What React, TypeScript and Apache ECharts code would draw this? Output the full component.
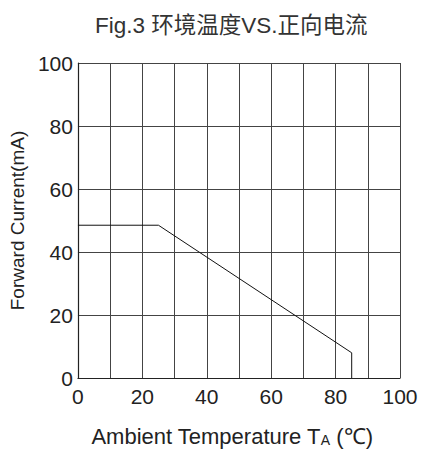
import React, { useEffect, useRef } from "react";
import * as echarts from "echarts";

const curveX = [0, 25, 85, 85];
const curveY = [48.5, 48.5, 8, 0];
const xTicks = [0, 20, 40, 60, 80, 100];
const yTicks = [0, 20, 40, 60, 80, 100];
const title = "Fig.3 环境温度VS.正向电流";
const xName = "Ambient Temperature T{s|A} (℃)";
const yName = "Forward Current(mA)";

export default function App() {
  const ref = useRef<HTMLDivElement>(null);
  useEffect(() => {
    const chart = echarts.init(ref.current!, null, { renderer: "svg" });
    const font = "'Liberation Sans', Arial, sans-serif";
    chart.setOption({
      animation: false,
      backgroundColor: "#fff",
      title: {
        text: title,
        left: 90,
        top: 9,
        textStyle: { fontFamily: "'Liberation Sans', 'Noto Sans CJK SC', sans-serif", fontSize: 22.5, fontWeight: "normal", color: "#333" },
      },
      grid: { left: 77, right: 25, top: 63, bottom: 73 },
      xAxis: {
        type: "value",
        min: 0,
        max: 100,
        interval: 10,
        name: xName,
        nameLocation: "middle",
        nameGap: 47,
        nameTextStyle: {
          fontFamily: font, fontSize: 22, color: "#222",
          padding: [0, 14, 0, 0],
          rich: { s: { fontFamily: font, fontSize: 14, color: "#222", verticalAlign: "bottom", padding: [8, 0, 0, 0] } },
        },
        axisLine: { show: true, lineStyle: { color: "#222", width: 1.2 } },
        axisTick: { show: false },
        splitLine: { show: true, lineStyle: { color: "#444", width: 1 } },
        axisLabel: {
          margin: 8,
          fontFamily: font, fontSize: 21, color: "#222",
          formatter: (v: number) => (xTicks.indexOf(v) >= 0 ? String(v) : ""),
        },
      },
      yAxis: {
        type: "value",
        min: 0,
        max: 100,
        interval: 20,
        name: yName,
        nameLocation: "middle",
        nameGap: 47,
        nameTextStyle: { fontFamily: font, fontSize: 19, color: "#222" },
        axisLine: { show: true, lineStyle: { color: "#222", width: 1.2 } },
        axisTick: { show: false },
        splitLine: { show: true, lineStyle: { color: "#444", width: 1 } },
        axisLabel: {
          margin: 5,
          fontFamily: font, fontSize: 21, color: "#222",
          formatter: (v: number) => (yTicks.indexOf(v) >= 0 ? String(v) : ""),
        },
      },
      series: [
        {
          type: "line",
          data: curveX.map((x, i) => [x, curveY[i]]),
          symbol: "none",
          lineStyle: { color: "#111", width: 1 },
        },
      ],
    });
    return () => chart.dispose();
  }, []);
  return (
    <div
      ref={ref}
      style={{ position: "fixed", left: 0, top: 0, width: 425, height: 452 }}
    />
  );
}
